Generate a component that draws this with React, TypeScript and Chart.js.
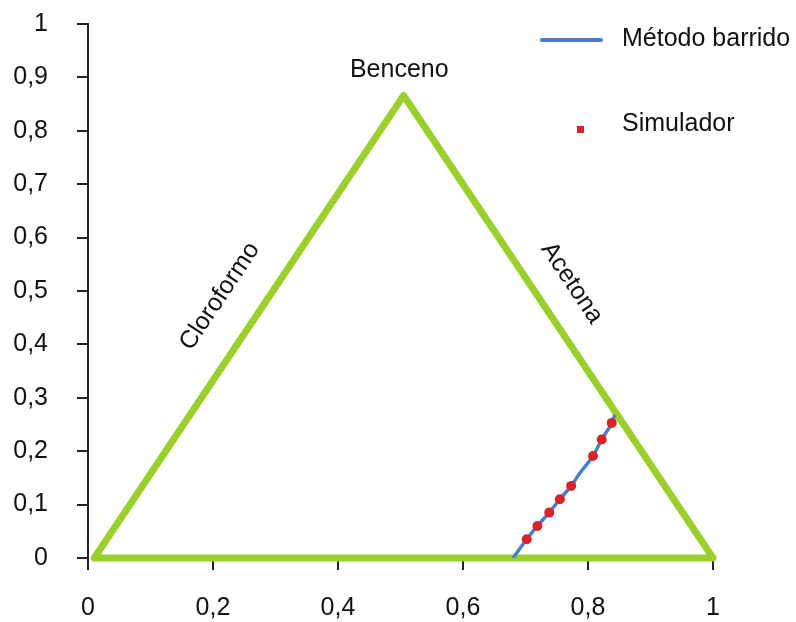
import React, { useEffect, useRef } from "react";
import { Chart, registerables } from "chart.js";

Chart.register(...registerables);

// ---- data ----
const triangleX = [0.01, 1, 0.505, 0.01];
const triangleY = [0, 0, 0.866, 0];

const sweepX = [0.68, 0.702, 0.719, 0.738, 0.755, 0.773, 0.787, 0.808, 0.822, 0.838, 0.843];
const sweepY = [0, 0.035, 0.06, 0.085, 0.11, 0.135, 0.159, 0.191, 0.222, 0.253, 0.268];

const simX = [0.702, 0.719, 0.738, 0.755, 0.773, 0.808, 0.822, 0.838];
const simY = [0.035, 0.06, 0.085, 0.11, 0.135, 0.191, 0.222, 0.253];

const xTicks = [0, 0.2, 0.4, 0.6, 0.8, 1];
const yTicks = [0, 0.1, 0.2, 0.3, 0.4, 0.5, 0.6, 0.7, 0.8, 0.9, 1];

const vertexLabels = ["Cloroformo", "Benceno", "Acetona"];
const labelPosX = [0.211, 0.498, 0.774];
const labelPosY = [0.49, 0.914, 0.515];
const seriesLabels = ["Método barrido", "Simulador"];

// ---- styles ----
const GREEN = "#9bd02c";
const BLUE = "#4a7fd0";
const RED = "#d8232a";
const TEXT = "#111";
const FONT = "'Liberation Sans', Arial, sans-serif";
const FONT_SIZE = 25;

const fmt = (v: number) => String(Math.round(v * 10) / 10).replace(".", ",");

const overlayPlugin = {
  id: "overlay",
  afterDatasetsDraw(chart: any) {
    const { ctx, scales } = chart;
    const xs = scales.x;
    const ys = scales.y;
    ctx.save();
    ctx.fillStyle = TEXT;
    ctx.font = `${FONT_SIZE}px ${FONT}`;
    ctx.textAlign = "center";
    ctx.textBaseline = "middle";

    const px0 = xs.getPixelForValue(triangleX[0]);
    const py0 = ys.getPixelForValue(triangleY[0]);
    const pxA = xs.getPixelForValue(triangleX[2]);
    const pyA = ys.getPixelForValue(triangleY[2]);
    const ang = Math.atan2(pyA - py0, pxA - px0);

    const pos = labelPosX.map((x, i) => [xs.getPixelForValue(x), ys.getPixelForValue(labelPosY[i])]);

    ctx.save();
    ctx.translate(pos[0][0], pos[0][1]);
    ctx.rotate(ang);
    ctx.fillText(vertexLabels[0], 0, 0);
    ctx.restore();

    ctx.fillText(vertexLabels[1], pos[1][0], pos[1][1]);

    ctx.save();
    ctx.translate(pos[2][0], pos[2][1]);
    ctx.rotate(-ang);
    ctx.fillText(vertexLabels[2], 0, 0);
    ctx.restore();

    // Legend
    ctx.strokeStyle = BLUE;
    ctx.lineWidth = 4;
    ctx.lineCap = "round";
    ctx.beginPath();
    ctx.moveTo(542, 40);
    ctx.lineTo(601, 40);
    ctx.stroke();
    ctx.fillStyle = RED;
    ctx.fillRect(577, 126, 7, 7);

    ctx.fillStyle = TEXT;
    ctx.textAlign = "left";
    ctx.fillText(seriesLabels[0], 622, 39);
    ctx.fillText(seriesLabels[1], 622, 124);
    ctx.restore();
  },
};

export default function App() {
  const ref = useRef<HTMLCanvasElement | null>(null);

  useEffect(() => {
    if (!ref.current) return;
    const chart = new Chart(ref.current, {
      type: "scatter",
      data: {
        datasets: [
          {
            label: seriesLabels[1],
            data: simX.map((x, i) => ({ x, y: simY[i] })),
            pointRadius: 5,
            pointBackgroundColor: RED,
            pointBorderWidth: 0,
            showLine: false,
          },
          {
            label: seriesLabels[0],
            data: sweepX.map((x, i) => ({ x, y: sweepY[i] })),
            showLine: true,
            borderColor: BLUE,
            borderWidth: 3.5,
            pointRadius: 0,
            tension: 0.4,
            cubicInterpolationMode: "monotone",
          },
          {
            label: "Triángulo",
            data: triangleX.map((x, i) => ({ x, y: triangleY[i] })),
            showLine: true,
            borderColor: GREEN,
            borderWidth: 7,
            borderJoinStyle: "round",
            borderCapStyle: "round",
            pointRadius: 0,
            tension: 0,
            clip: false,
          },
        ] as any,
      },
      options: {
        animation: false,
        responsive: false,
        devicePixelRatio: 1,
        events: [],
        layout: { padding: { left: 0, right: 83, top: 24, bottom: 0 } },
        plugins: { legend: { display: false }, tooltip: { enabled: false } },
        scales: {
          x: {
            type: "linear",
            min: 0,
            max: 1,
            afterFit: (s: any) => {
              s.height = 64;
              s.paddingLeft = 0;
              s.paddingRight = 0;
            },
            afterBuildTicks: (s: any) => {
              s.ticks = xTicks.map((v) => ({ value: v }));
            },
            border: { display: false },
            grid: {
              drawOnChartArea: false,
              drawTicks: true,
              tickLength: 12,
              color: "#222",
              lineWidth: 2,
            },
            ticks: {
              callback: (v: any) => fmt(Number(v)),
              color: TEXT,
              font: { family: FONT, size: FONT_SIZE },
              padding: 23,
              maxRotation: 0,
              autoSkip: false,
            },
          },
          y: {
            type: "linear",
            min: 0,
            max: 1,
            afterFit: (s: any) => {
              s.width = 88;
              s.paddingTop = 0;
              s.paddingBottom = 0;
            },
            afterBuildTicks: (s: any) => {
              s.ticks = yTicks.map((v) => ({ value: v }));
            },
            border: { display: true, color: "#222", width: 2 },
            grid: {
              drawOnChartArea: false,
              drawTicks: true,
              tickLength: 11,
              color: "#222",
              lineWidth: 2,
            },
            ticks: {
              callback: (v: any) => fmt(Number(v)),
              color: TEXT,
              font: { family: FONT, size: FONT_SIZE },
              padding: 29,
              autoSkip: false,
            },
          },
        },
      } as any,
      plugins: [overlayPlugin],
    });
    return () => chart.destroy();
  }, []);

  return (
    <canvas
      ref={ref}
      width={796}
      height={622}
      style={{ position: "fixed", left: 0, top: 0, width: 796, height: 622, background: "#fff" }}
    />
  );
}
